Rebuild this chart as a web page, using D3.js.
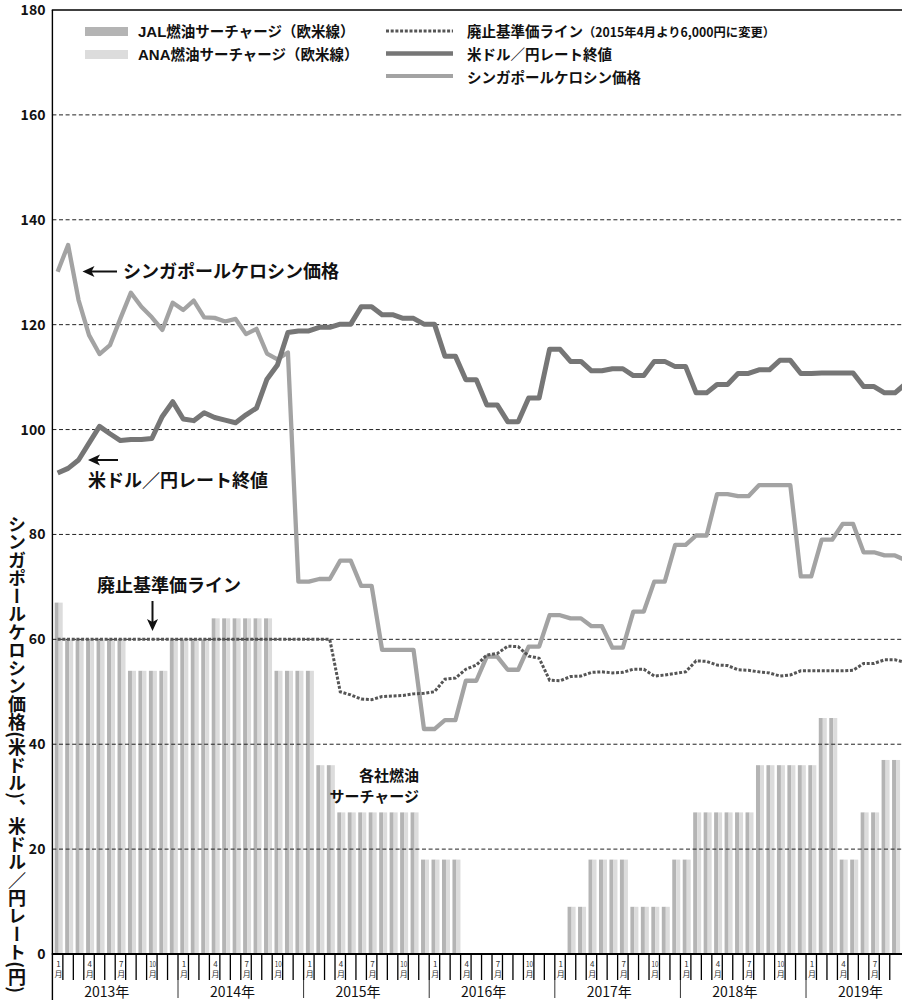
<!DOCTYPE html>
<html>
<head>
<meta charset="utf-8">
<script src="https://cdn.jsdelivr.net/npm/d3@7"></script>
<style>
  body { margin: 0; background: #fff; }
  svg { display: block; }
  text { font-family: "Noto Sans CJK JP", "Noto Sans", sans-serif; }
</style>
</head>
<body>
<svg id="chart" width="906" height="1000"></svg>
<script>
// ---- categories ----
const years = [2013, 2014, 2015, 2016, 2017, 2018, 2019];
const monthsInYear = [12, 12, 12, 12, 12, 12, 10];
const months = years.flatMap((yr, k) => d3.range(1, monthsInYear[k] + 1).map(m => `${yr}-${m}`));
const labelledMonths = [1, 4, 7, 10];
const yTicks = [0, 20, 40, 60, 80, 100, 120, 140, 160, 180];

// ---- fuel surcharge (Europe / North America routes), scaled to the left axis ----
const jal = [
  67, 60, 60, 60, 60, 60, 60, 54, 54, 54, 54, 60,
  60, 60, 60, 64, 64, 64, 64, 64, 64, 54, 54, 54,
  54, 36, 36, 27, 27, 27, 27, 27, 27, 27, 27, 18,
  18, 18, 18, 0, 0, 0, 0, 0, 0, 0, 0, 0,
  0, 9, 9, 18, 18, 18, 18, 9, 9, 9, 9, 18,
  18, 27, 27, 27, 27, 27, 27, 36, 36, 36, 36, 36,
  36, 45, 45, 18, 18, 27, 27, 37, 37
];
const ana = [
  67, 60, 60, 60, 60, 60, 60, 54, 54, 54, 54, 60,
  60, 60, 60, 64, 64, 64, 64, 64, 64, 54, 54, 54,
  54, 36, 36, 27, 27, 27, 27, 27, 27, 27, 27, 18,
  18, 18, 18, 0, 0, 0, 0, 0, 0, 0, 0, 0,
  0, 9, 9, 18, 18, 18, 18, 9, 9, 9, 9, 18,
  18, 27, 27, 27, 27, 27, 27, 36, 36, 36, 36, 36,
  36, 45, 45, 18, 18, 27, 27, 37, 37
];

// ---- Singapore kerosene price (USD) ----
const kerosene = [
  130.1, 135.2, 124.7, 118, 114.4, 116.1, 121.2, 126.1, 123.4, 121.4, 119, 124.2,
  122.8, 124.6, 121.4, 121.3, 120.6, 121.1, 118.2, 119.2, 114.5, 113.4, 114.7, 71,
  71, 71.5, 71.5, 75, 75, 70.2, 70.2, 58, 58, 58, 58, 42.9,
  42.9, 44.6, 44.6, 52.1, 52.1, 56.7, 56.7, 54.2, 54.2, 58.6, 58.6, 64.6,
  64.6, 64, 64, 62.5, 62.5, 58.4, 58.4, 65.3, 65.3, 71, 71, 78,
  78, 79.8, 79.8, 87.7, 87.7, 87.3, 87.3, 89.4, 89.4, 89.4, 89.4, 72,
  72, 79, 79, 82, 82, 76.6, 76.6, 76, 76, 75.1
];

// ---- USD/JPY closing rate ----
const usdJpy = [
  91.7, 92.6, 94.2, 97.4, 100.6, 99.2, 97.9, 98.1, 98.1, 98.3, 102.5, 105.3,
  102, 101.7, 103.2, 102.3, 101.8, 101.3, 102.8, 104.1, 109.6, 112.3, 118.5, 118.8,
  118.8, 119.5, 119.5, 120.1, 120.1, 123.4, 123.4, 121.9, 121.9, 121.2, 121.2, 120.1,
  120.1, 114, 114, 109.5, 109.5, 104.7, 104.7, 101.5, 101.5, 106, 106, 115.3,
  115.3, 113, 113, 111.2, 111.2, 111.6, 111.6, 110.3, 110.3, 113, 113, 112,
  112, 107, 107, 108.6, 108.6, 110.7, 110.7, 111.4, 111.4, 113.2, 113.2, 110.7,
  110.7, 110.8, 110.8, 110.8, 110.8, 108.2, 108.2, 107, 107, 108.7
];

// ---- abolition threshold line (USD) ----
const baseline = [
  60, 60, 60, 60, 60, 60, 60, 60, 60, 60, 60, 60,
  60, 60, 60, 60, 60, 60, 60, 60, 60, 60, 60, 60,
  60, 60, 60, 50, 49.4, 48.6, 48.5, 49.1, 49.2, 49.3, 49.6, 49.7,
  50, 52.4, 52.6, 54.3, 55.1, 57, 57.3, 58.7, 58.6, 56.8, 56.4, 52.2,
  52.1, 52.9, 53, 53.7, 53.8, 53.6, 53.7, 54.3, 54.3, 53, 53.2, 53.5,
  53.8, 55.9, 55.8, 55.1, 55, 54.2, 54.1, 53.8, 53.6, 53, 53.2, 54,
  54, 54, 54, 54, 54.1, 55.4, 55.4, 56.1, 56.1, 55.6
];

// ---- layout ----
const plotLeft = 52.4, plotRight = 902, plotTop = 10, plotBottom = 954;
const monthStep = 10.467;

const svg = d3.select("#chart");

const x = d3.scaleBand()
  .domain(months)
  .range([plotLeft, plotLeft + monthStep * months.length])
  .padding(0);
const xSub = d3.scaleBand().domain(["JAL", "ANA"]).range([2.3, 10.3]).padding(0);
const y = d3.scaleLinear().domain([0, 180]).range([plotBottom, plotTop]);
const cx = i => x(months[i]) + x.bandwidth() / 2;

svg.append("defs").append("clipPath").attr("id", "plotClip")
  .append("rect")
  .attr("x", plotLeft).attr("y", 0)
  .attr("width", plotRight - plotLeft).attr("height", plotBottom);

// ---- bars ----
const barG = svg.append("g");
[["JAL", jal, "#b4b4b4"], ["ANA", ana, "#dcdcdc"]].forEach(([key, vals, col]) => {
  barG.selectAll(null)
    .data(vals)
    .join("rect")
    .attr("x", (d, i) => x(months[i]) + xSub(key))
    .attr("y", d => y(d))
    .attr("width", xSub.bandwidth())
    .attr("height", d => y(0) - y(d))
    .attr("fill", col);
});

// ---- gridlines (dashed) ----
const gridVals = yTicks.filter(v => v > 0 && v < 180);
svg.append("g").selectAll("line")
  .data(gridVals)
  .join("line")
  .attr("x1", plotLeft).attr("x2", plotRight)
  .attr("y1", d => y(d)).attr("y2", d => y(d))
  .attr("stroke", "#222").attr("stroke-width", 1)
  .attr("stroke-dasharray", "4,2.6");

// ---- y axis ----
const yAxis = d3.axisLeft(y).tickValues(yTicks).tickSize(0).tickPadding(7);
const yAxisG = svg.append("g").attr("transform", `translate(${plotLeft},0)`).call(yAxis);
yAxisG.select(".domain").remove();
yAxisG.selectAll("text")
  .attr("font-family", "'Liberation Sans', Arial, sans-serif")
  .attr("font-weight", "bold")
  .attr("font-size", 14)
  .attr("fill", "#111");

// top frame line and left axis line
svg.append("line")
  .attr("x1", plotLeft - 0.6).attr("x2", plotRight)
  .attr("y1", y(180)).attr("y2", y(180))
  .attr("stroke", "#000").attr("stroke-width", 1.4);
svg.append("line")
  .attr("x1", plotLeft).attr("x2", plotLeft)
  .attr("y1", y(180)).attr("y2", 1000)
  .attr("stroke", "#000").attr("stroke-width", 1.4);

// ---- lines ----
const lineGen = d3.line().x((d, i) => cx(i)).y(d => y(d)).curve(d3.curveLinear);
const lineG = svg.append("g").attr("clip-path", "url(#plotClip)");
lineG.append("path").datum(kerosene)
  .attr("d", lineGen).attr("fill", "none")
  .attr("stroke", "#a3a3a3").attr("stroke-width", 4.3)
  .attr("stroke-linejoin", "round");
lineG.append("path").datum(usdJpy)
  .attr("d", lineGen).attr("fill", "none")
  .attr("stroke", "#767676").attr("stroke-width", 5)
  .attr("stroke-linejoin", "round");
lineG.append("path").datum(baseline)
  .attr("d", lineGen).attr("fill", "none")
  .attr("stroke", "#555").attr("stroke-width", 3)
  .attr("stroke-dasharray", "3,1.7");

// ---- x axis ----
svg.append("line")
  .attr("x1", plotLeft - 0.6).attr("x2", plotRight)
  .attr("y1", y(0)).attr("y2", y(0))
  .attr("stroke", "#000").attr("stroke-width", 2);

const monthIdx = d3.range(1, 81);
svg.append("g").selectAll("line")
  .data(monthIdx)
  .join("line")
  .attr("x1", i => x(months[i])).attr("x2", i => x(months[i]))
  .attr("y1", y(0)).attr("y2", 980)
  .attr("stroke", "#000").attr("stroke-width", 1.3);

// year dividers
const yearStarts = years.map(yr => months.indexOf(`${yr}-1`));
svg.append("g").selectAll("line")
  .data(yearStarts.filter(i => i > 0))
  .join("line")
  .attr("x1", i => x(months[i])).attr("x2", i => x(months[i]))
  .attr("y1", 980).attr("y2", 998)
  .attr("stroke", "#333").attr("stroke-width", 1);

// month labels (1, 4, 7, 10月), number stacked above 月
const labelled = months
  .map((m, i) => [m, i])
  .filter(([m, i]) => i < 81 && labelledMonths.includes(+m.split("-")[1]));
const ml = svg.append("g").selectAll("text")
  .data(labelled)
  .join("text")
  .attr("text-anchor", "middle")
  .attr("font-size", 8)
  .attr("fill", "#333");
ml.append("tspan")
  .attr("x", ([m, i]) => cx(i) + 0.8)
  .attr("y", 967)
  .each(function ([m]) {
    const n = m.split("-")[1];
    d3.select(this).text(n);
    if (n.length > 1) d3.select(this).attr("textLength", 7).attr("lengthAdjust", "spacingAndGlyphs");
  });
ml.append("tspan")
  .attr("x", ([m, i]) => cx(i) + 0.8)
  .attr("y", 977)
  .text("月");

// year labels
svg.append("g").selectAll("text")
  .data(years)
  .join("text")
  .attr("x", (yr, k) => x(months[yearStarts[k]]) + 5.2 * monthStep)
  .attr("y", 992).attr("dy", "0.35em")
  .attr("text-anchor", "middle")
  .attr("font-size", 14)
  .attr("fill", "#111")
  .text(yr => `${yr}年`);

// ---- y axis title (vertical) ----
svg.append("text")
  .attr("x", 17).attr("y", 515)
  .style("writing-mode", "vertical-rl")
  .attr("font-size", 18)
  .attr("textLength", 478)
  .attr("lengthAdjust", "spacing")
  .attr("font-weight", "bold")
  .attr("fill", "#111")
  .text("シンガポールケロシン価格(米ドル)、米ドル／円レート(円)");

// ---- legend ----
const lg = svg.append("g").attr("font-weight", "bold").attr("fill", "#111");
lg.append("rect").attr("x", 85).attr("y", 27).attr("width", 43).attr("height", 9).attr("fill", "#b4b4b4");
lg.append("rect").attr("x", 85).attr("y", 50).attr("width", 43).attr("height", 9).attr("fill", "#dcdcdc");
[["JAL", 31.5], ["ANA", 54.5]].forEach(([carrier, yy]) => {
  const t = lg.append("text").attr("x", 138).attr("y", yy).attr("dy", "0.36em").attr("font-size", 14.5);
  t.append("tspan").attr("font-family", "'Liberation Sans', Arial, sans-serif").attr("font-size", 15).text(carrier);
  t.append("tspan").text("燃油サーチャージ（欧米線）");
});

lg.append("line").attr("x1", 386).attr("x2", 453).attr("y1", 31).attr("y2", 31)
  .attr("stroke", "#555").attr("stroke-width", 3).attr("stroke-dasharray", "3,1.7");
lg.append("line").attr("x1", 386).attr("x2", 453).attr("y1", 53.5).attr("y2", 53.5)
  .attr("stroke", "#767676").attr("stroke-width", 4.5);
lg.append("line").attr("x1", 386).attr("x2", 453).attr("y1", 76).attr("y2", 76)
  .attr("stroke", "#a3a3a3").attr("stroke-width", 4);

const t1 = lg.append("text").attr("x", 467).attr("y", 31.5).attr("dy", "0.36em").attr("font-size", 14.5);
t1.append("tspan").text("廃止基準価ライン");
t1.append("tspan").attr("font-size", 12.3).text("（2015年4月より6,000円に変更）");
lg.append("text").attr("x", 467).attr("y", 54.5).attr("dy", "0.36em").attr("font-size", 14.5).text("米ドル／円レート終値");
lg.append("text").attr("x", 467).attr("y", 77.5).attr("dy", "0.36em").attr("font-size", 14.5).text("シンガポールケロシン価格");

// ---- annotations ----
const ann = svg.append("g").attr("font-weight", "bold").attr("fill", "#111");
function arrowLeft(xTip, xTail, yy) {
  ann.append("line").attr("x1", xTip + 8).attr("x2", xTail).attr("y1", yy).attr("y2", yy)
    .attr("stroke", "#111").attr("stroke-width", 2);
  ann.append("path")
    .attr("d", `M${xTip},${yy} L${xTip + 12},${yy - 5.5} L${xTip + 9},${yy} L${xTip + 12},${yy + 5.5} Z`)
    .attr("fill", "#111");
}
arrowLeft(82.5, 117, 271.5);
ann.append("text").attr("x", 123).attr("y", 272).attr("dy", "0.36em").attr("font-size", 18)
  .text("シンガポールケロシン価格");

arrowLeft(88, 118, 460);
ann.append("text").attr("x", 88).attr("y", 480.5).attr("dy", "0.36em").attr("font-size", 18)
  .text("米ドル／円レート終値");

ann.append("text").attr("x", 97).attr("y", 586).attr("dy", "0.36em").attr("font-size", 18)
  .text("廃止基準価ライン");
ann.append("line").attr("x1", 152.5).attr("x2", 152.5).attr("y1", 601).attr("y2", 622)
  .attr("stroke", "#111").attr("stroke-width", 2);
ann.append("path")
  .attr("d", "M152.5,631 L147,619 L152.5,622 L158,619 Z")
  .attr("fill", "#111");

ann.append("text").attr("x", 419).attr("y", 776).attr("dy", "0.36em").attr("font-size", 15)
  .attr("text-anchor", "end").text("各社燃油");
ann.append("text").attr("x", 419).attr("y", 797).attr("dy", "0.36em").attr("font-size", 15)
  .attr("text-anchor", "end").text("サーチャージ");
</script>
</body>
</html>
